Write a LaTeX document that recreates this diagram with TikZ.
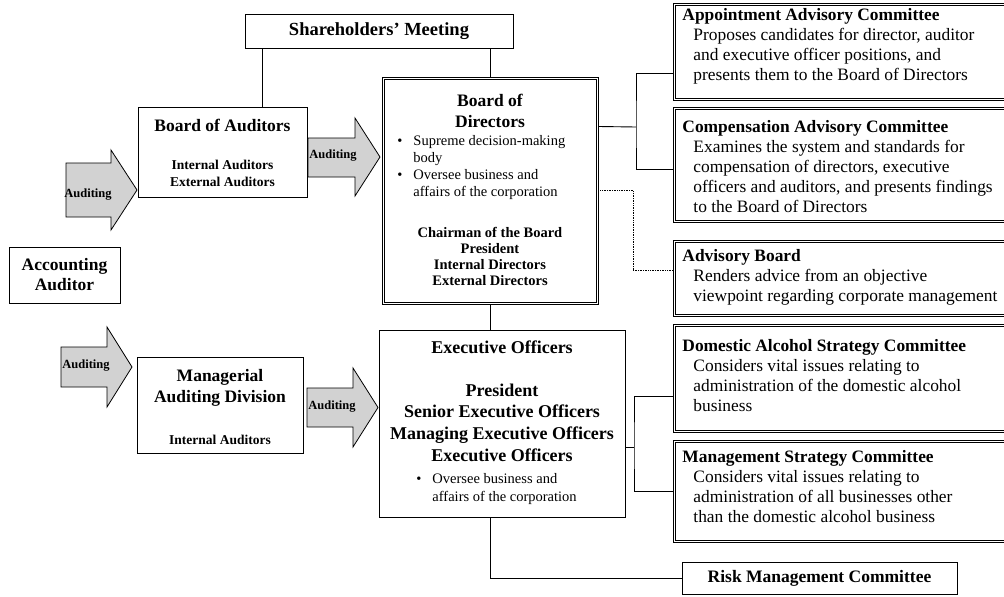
\documentclass[tikz,border=0pt]{standalone}
\usepackage{fontspec}
\setmainfont{Liberation Serif}
\newcommand{\cmtind}{\hspace*{11pt}}

\begin{document}
\begin{tikzpicture}[x=1pt, y=-1pt, line width=0.9pt,
  box/.style={draw, fill=white, inner sep=0pt},
  innerline/.style={line width=0.7pt},
  ttl/.style={font=\bfseries\fontsize{17.5}{21}\selectfont, align=center, inner sep=0pt},
  sub/.style={font=\bfseries\fontsize{13.5}{17}\selectfont, align=center, inner sep=0pt},
  txt/.style={font=\fontsize{14.5}{17}\selectfont, align=left, anchor=west, inner sep=0pt},
  cmt/.style={font=\fontsize{17.4}{20}\selectfont, align=left, anchor=west, inner sep=0pt},
  arrowbody/.style={draw, fill=gray!35, line width=0.8pt},
  arrowlbl/.style={font=\bfseries\fontsize{12.5}{14}\selectfont, inner sep=0pt},
  dots/.style={densely dotted, line width=0.7pt}]
  \path[use as bounding box, clip] (0,0) rectangle (1004,597);

  % left column
  \node[box, minimum width=268, minimum height=34, font=\bfseries\fontsize{18.5}{22}\selectfont]
    (sm) at (379,31) {Shareholders' Meeting};
  \node[box, minimum width=169, minimum height=90] (boa) at (222.5,152) {};
  \node[ttl] (boatitle) at (222.5,125) {Board of Auditors};
  \node[sub] (boamembers) at (222.5,173) {Internal Auditors\\External Auditors};
  \node[box, minimum width=111, minimum height=56, font=\bfseries\fontsize{17.5}{20}\selectfont, align=center]
    (acc) at (64.5,275) {Accounting\\Auditor};
  \node[box, minimum width=166, minimum height=96] (mad) at (220,405) {};
  \node[ttl] (madtitle) at (220,387.5) {Managerial\\Auditing Division};
  \node[sub] (madmembers) at (220,440) {Internal Auditors};

  % auditing arrows
  \draw[arrowbody] (66,163) -- (111,163) -- (111,150) -- (137,190) -- (111,230) -- (111,217) -- (66,217) -- cycle;
  \node[arrowlbl] (aud1) at (88,195) {Auditing};
  \draw[arrowbody] (308,138) -- (355,138) -- (355,118) -- (380,157) -- (355,196) -- (355,177) -- (308,177) -- cycle;
  \node[arrowlbl] (aud2) at (333,156) {Auditing};
  \draw[arrowbody] (61,347) -- (107,347) -- (107,327) -- (132,367) -- (107,407) -- (107,387) -- (61,387) -- cycle;
  \node[arrowlbl] (aud3) at (86,366) {Auditing};
  \draw[arrowbody] (307,388) -- (353,388) -- (353,368) -- (378,407.5) -- (353,447) -- (353,427) -- (307,427) -- cycle;
  \node[arrowlbl] (aud4) at (332,407) {Auditing};

  % board of directors
  \node[box, minimum width=216, minimum height=227] (bod) at (490,190.5) {};
  \node[ttl] (bodtitle) at (490,110.5) {Board of\\Directors};
  \node[txt] (boddesc) at (397,168) {\begin{tabular}{@{}p{16pt}@{}l@{}}
    \textbullet & Supreme decision-making\\ & body\\
    \textbullet & Oversee business and\\ & affairs of the corporation\end{tabular}};
  \node[sub, font=\bfseries\fontsize{14.5}{16.3}\selectfont] (bodmembers) at (490,256.5)
    {Chairman of the Board\\President\\Internal Directors\\External Directors};

  % executive officers
  \node[box, minimum width=246, minimum height=187] (eo) at (502,423.5) {};
  \node[ttl, font=\bfseries\fontsize{18}{21.7}\selectfont] (eotitle) at (502,347) {Executive Officers};
  \node[ttl, font=\bfseries\fontsize{18}{21.7}\selectfont] (eomembers) at (502,422.5)
    {President\\Senior Executive Officers\\Managing Executive Officers\\Executive Officers};
  \node[txt, font=\fontsize{14.5}{18}\selectfont] (eodesc) at (416,489) {\begin{tabular}{@{}p{16pt}@{}l@{}}
    \textbullet & Oversee business and\\ & affairs of the corporation\end{tabular}};

  % committees
  \node[box, minimum width=337, minimum height=97] (apt) at (841.5,51.5) {};
  \node[cmt] (apttxt) at (682,46.5) {\textbf{Appointment Advisory Committee}\\
    \cmtind Proposes candidates for director, auditor\\
    \cmtind and executive officer positions, and\\
    \cmtind presents them to the Board of Directors};
  \node[box, minimum width=337, minimum height=115] (cmp) at (841.5,164.5) {};
  \node[cmt] (cmptxt) at (682,167) {\textbf{Compensation Advisory Committee}\\
    \cmtind Examines the system and standards for\\
    \cmtind compensation of directors, executive\\
    \cmtind officers and auditors, and presents findings\\
    \cmtind to the Board of Directors};
  \node[box, minimum width=337, minimum height=76] (adv) at (841.5,278) {};
  \node[cmt] (advtxt) at (682,277.5) {\textbf{Advisory Board}\\
    \cmtind Renders advice from an objective\\
    \cmtind viewpoint regarding corporate management};
  \node[box, minimum width=337, minimum height=108] (dom) at (841.5,378) {};
  \node[cmt] (domtxt) at (682,375.5) {\textbf{Domestic Alcohol Strategy Committee}\\
    \cmtind Considers vital issues relating to\\
    \cmtind administration of the domestic alcohol\\
    \cmtind business};
  \node[box, minimum width=337, minimum height=102] (mgt) at (841.5,491) {};
  \node[cmt] (mgttxt) at (682,486.5) {\textbf{Management Strategy Committee}\\
    \cmtind Considers vital issues relating to\\
    \cmtind administration of all businesses other\\
    \cmtind than the domestic alcohol business};
  \node[box, minimum width=275, minimum height=32, font=\bfseries\fontsize{17.5}{20}\selectfont]
    (risk) at (819.5,578) {Risk Management Committee};

  % double borders
  \foreach \n in {bod,apt,cmp,adv,dom,mgt}
    \draw[innerline] ([shift={(2.4,2.4)}]\n.north west) rectangle ([shift={(-2.4,-2.4)}]\n.south east);

  % connectors
  \draw ([xshift=39.5pt]boa.north) -- ([xshift=39.5pt]boa.north |- sm.south);
  \draw (bod.north) -- (bod.north |- sm.south);
  \draw (bod.south) -- (bod.south |- eo.north);
  \draw (bod.south |- eo.south) |- (risk.west);
  \coordinate (bkup) at (636,127);
  \draw ([yshift=64pt]bod.east) -- (bkup);
  \draw ([yshift=-22pt]apt.west) -| (bkup) |- ([yshift=-5pt]cmp.west);
  \draw[dots] (bod.east) -- ++(35,0) |- ([yshift=8pt]adv.west);
  \coordinate (bklow) at (634,447);
  \draw ([yshift=-23.5pt]eo.east) -- (bklow);
  \draw ([yshift=-18pt]dom.west) -| (bklow) |- (mgt.west);
\end{tikzpicture}
\end{document}
